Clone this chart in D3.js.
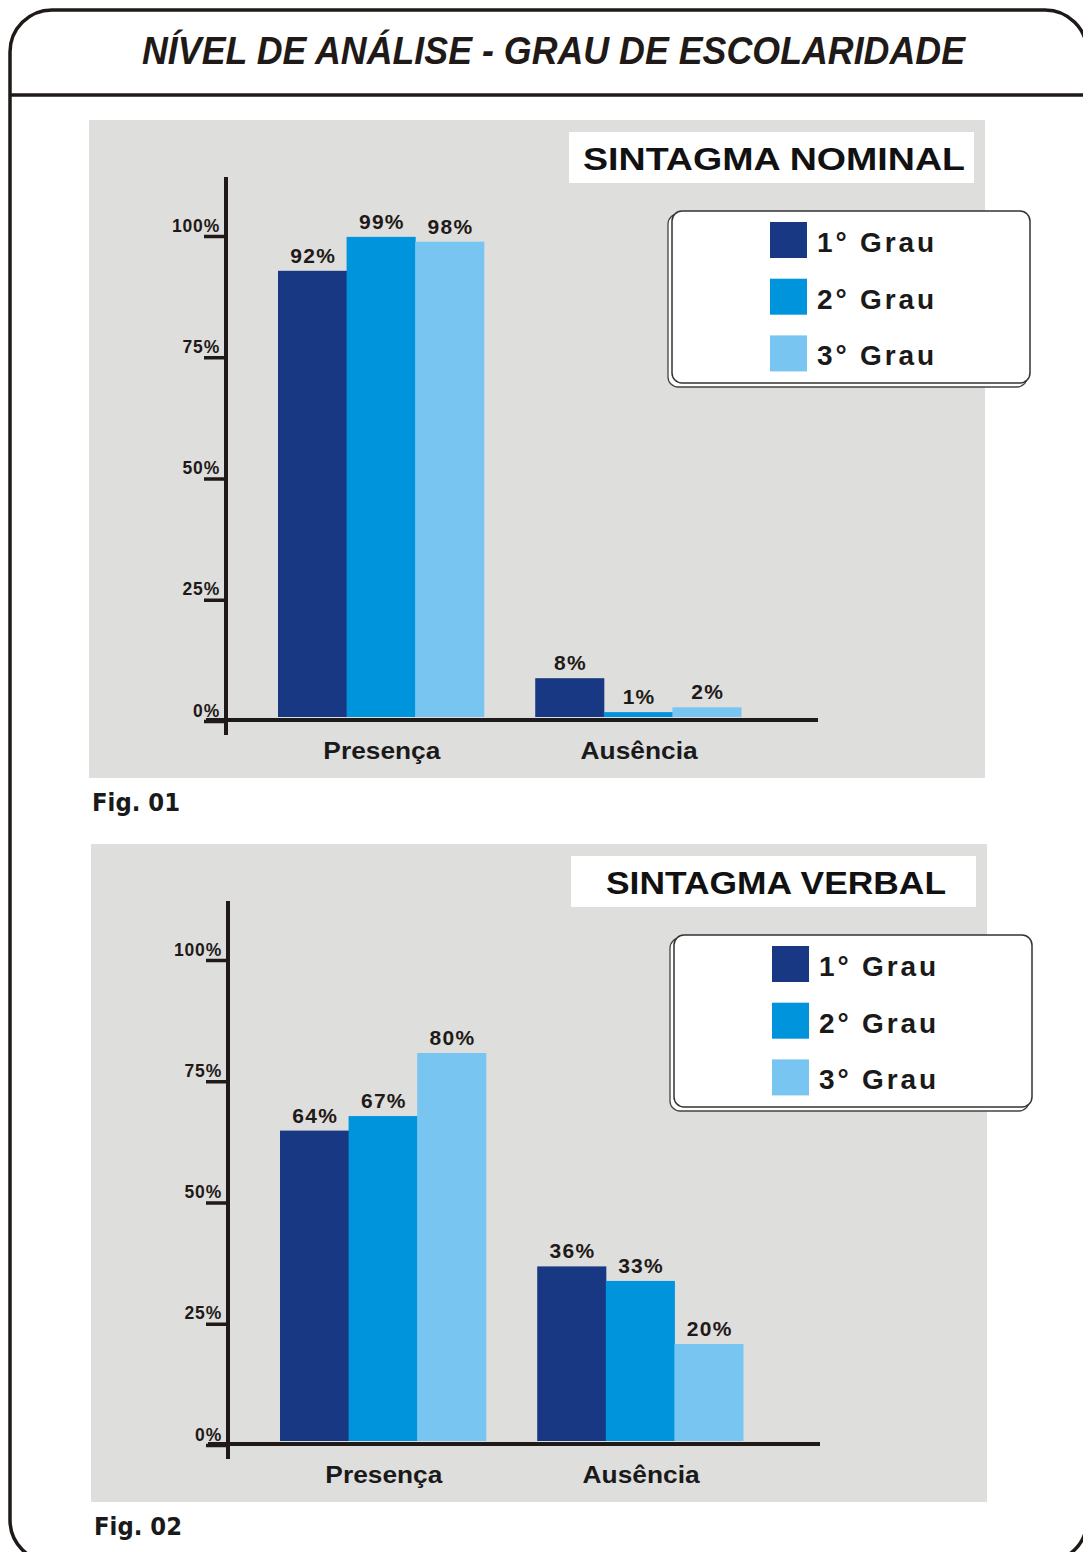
<!DOCTYPE html>
<html>
<head>
<meta charset="utf-8">
<script src="https://cdn.jsdelivr.net/npm/d3@7"></script>
<style>
  html, body { margin: 0; padding: 0; background: #ffffff; }
  svg { display: block; }
</style>
</head>
<body>
<script>
// ---------- DATA ----------
const pageTitle = "NÍVEL DE ANÁLISE - GRAU DE ESCOLARIDADE";
const categories = ["Presença", "Ausência"];
const series = ["1° Grau", "2° Grau", "3° Grau"];
const nominalTitle = "SINTAGMA NOMINAL";
const nominalValues = [[92, 99, 98], [8, 1, 2]];   // per category, per series
const verbalTitle = "SINTAGMA VERBAL";
const verbalValues = [[64, 67, 80], [36, 33, 20]];
const tickValues = [0, 25, 50, 75, 100];
const figLabels = ["Fig. 01", "Fig. 02"];
const seriesColors = ["#183884", "#0094dc", "#77c5f0"];

// ---------- LAYOUT ----------
const W = 1083, H = 1552;
const ink = "#1f1a17";
const panelFill = "#dededd";
const sans = "'Liberation Sans', Arial, Helvetica, sans-serif";

const svg = d3.select("body").append("svg")
  .attr("width", W).attr("height", H)
  .attr("viewBox", `0 0 ${W} ${H}`);

// outer rounded frame
svg.append("rect")
  .attr("x", 10).attr("y", 10)
  .attr("width", 1077).attr("height", 1552)
  .attr("rx", 42).attr("ry", 42)
  .attr("fill", "none").attr("stroke", ink).attr("stroke-width", 3.5);

// rule under title
svg.append("line")
  .attr("x1", 10).attr("x2", W + 5)
  .attr("y1", 95).attr("y2", 95)
  .attr("stroke", ink).attr("stroke-width", 3.5);

// main title
svg.append("text")
  .attr("x", 142).attr("y", 64)
  .attr("textLength", 823).attr("lengthAdjust", "spacingAndGlyphs")
  .attr("font-family", "'Liberation Sans Narrow', 'Arial Narrow', " + sans)
  .attr("font-weight", "bold").attr("font-style", "italic")
  .attr("font-size", 39).attr("fill", ink)
  .text(pageTitle);

function drawFigure(offset, title, titleWidth, values, figLabel) {
  const g = svg.append("g").attr("transform", `translate(${offset[0]},${offset[1]})`);

  // grey panel
  g.append("rect").attr("x", 89).attr("y", 120).attr("width", 896).attr("height", 658)
    .attr("fill", panelFill);

  // title box
  g.append("rect").attr("x", 569).attr("y", 132).attr("width", 405).attr("height", 51)
    .attr("fill", "#ffffff");
  g.append("text")
    .attr("x", 774).attr("y", 170)
    .attr("text-anchor", "middle")
    .attr("textLength", titleWidth).attr("lengthAdjust", "spacingAndGlyphs")
    .attr("font-family", sans).attr("font-weight", "bold")
    .attr("font-size", 32).attr("fill", "#111")
    .text(title);

  // scales
  const y = d3.scaleLinear().domain([0, 100]).range([717, 232]);
  const x0 = d3.scaleBand().domain(categories).range([278, 741])
    .paddingInner(0.2).paddingOuter(0);
  const x1 = d3.scaleBand().domain(series).range([0, x0.bandwidth()]).padding(0);
  const color = d3.scaleOrdinal().domain(series).range(seriesColors);

  // bars
  const groups = g.append("g").selectAll("g")
    .data(categories.map((c, ci) => ({ c, vals: values[ci] })))
    .join("g")
    .attr("transform", d => `translate(${x0(d.c)},0)`);

  groups.selectAll("rect")
    .data(d => d.vals.map((v, si) => ({ s: series[si], v })))
    .join("rect")
    .attr("x", d => x1(d.s))
    .attr("width", x1.bandwidth() + 0.5)
    .attr("y", d => y(d.v))
    .attr("height", d => y(0) - y(d.v))
    .attr("fill", d => color(d.s));

  groups.selectAll("text")
    .data(d => d.vals.map((v, si) => ({ s: series[si], v })))
    .join("text")
    .attr("x", d => x1(d.s) + x1.bandwidth() / 2 + 1)
    .attr("y", d => y(d.v) - 8)
    .attr("text-anchor", "middle")
    .attr("font-family", sans).attr("font-weight", "bold")
    .attr("font-size", 21).attr("letter-spacing", "1.3px")
    .attr("fill", ink)
    .text(d => d.v + "%");

  // y axis ticks and labels
  const yAxis = d3.axisLeft(y).tickValues(tickValues).tickSize(22)
    .tickFormat(d => d + "%");
  const ag = g.append("g").attr("transform", "translate(226,4)").call(yAxis);
  ag.select(".domain").remove();
  ag.selectAll(".tick line").attr("stroke", ink).attr("stroke-width", 3.5);
  ag.selectAll(".tick text")
    .attr("x", -6).attr("y", -5).attr("dy", null)
    .attr("text-anchor", "end")
    .attr("font-family", sans).attr("font-weight", "bold")
    .attr("font-size", 17.5).attr("letter-spacing", "0.8px").attr("fill", ink);

  // axis lines
  g.append("line").attr("x1", 226).attr("x2", 226).attr("y1", 177).attr("y2", 735)
    .attr("stroke", ink).attr("stroke-width", 4);
  g.append("line").attr("x1", 206).attr("x2", 818).attr("y1", 720).attr("y2", 720)
    .attr("stroke", ink).attr("stroke-width", 4);

  // category labels
  g.append("g").selectAll("text")
    .data(categories)
    .join("text")
    .attr("x", d => x0(d) + x0.bandwidth() / 2 + 1)
    .attr("y", 759)
    .attr("text-anchor", "middle")
    .attr("textLength", 117).attr("lengthAdjust", "spacingAndGlyphs")
    .attr("font-family", sans).attr("font-weight", "bold")
    .attr("font-size", 24).attr("fill", "#1a1a1a")
    .text(d => d);

  // legend
  const lg = g.append("g");
  lg.append("rect").attr("x", 668).attr("y", 214).attr("width", 359).attr("height", 173)
    .attr("rx", 10).attr("fill", "#ffffff").attr("stroke", "#444").attr("stroke-width", 1.3);
  lg.append("rect").attr("x", 672).attr("y", 211).attr("width", 358).attr("height", 172)
    .attr("rx", 10).attr("fill", "#ffffff").attr("stroke", "#333").attr("stroke-width", 1.5);
  const items = lg.selectAll("g.item").data(series).join("g")
    .attr("class", "item")
    .attr("transform", (d, i) => `translate(0,${i * 56.7})`);
  items.append("rect").attr("x", 770).attr("y", 222).attr("width", 37).attr("height", 36)
    .attr("fill", d => color(d));
  items.append("text").attr("x", 817).attr("y", 252)
    .attr("textLength", 117).attr("lengthAdjust", "spacing")
    .attr("font-family", sans).attr("font-weight", "bold")
    .attr("font-size", 28).attr("fill", "#1a1a1a")
    .text(d => d);

  // figure label
  g.append("text").attr("x", 92).attr("y", 811)
    .attr("textLength", 88).attr("lengthAdjust", "spacingAndGlyphs")
    .attr("font-family", "'DejaVu Sans', Verdana, sans-serif").attr("font-weight", "bold")
    .attr("font-size", 24).attr("fill", "#1a1a1a")
    .text(figLabel);
}

drawFigure([0, 0], nominalTitle, 382, nominalValues, figLabels[0]);
drawFigure([2, 724], verbalTitle, 340, verbalValues, figLabels[1]);
</script>
</body>
</html>
